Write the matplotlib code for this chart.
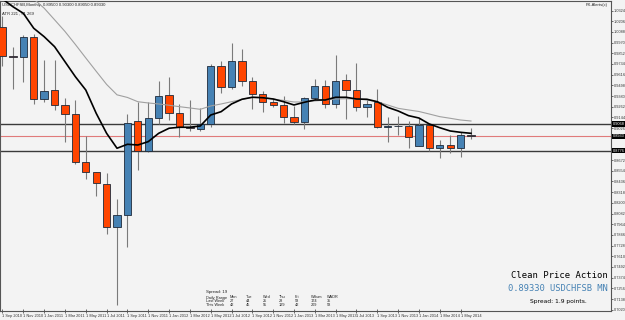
import pandas as pd
import matplotlib
matplotlib.use("Agg")
import matplotlib.pyplot as plt

# monthly USDCHF candles, Sep 2010 .. Jun 2014
months = pd.date_range("2010-09-01", periods=46, freq="MS")

opens = [1.0139, 0.9825, 0.9814, 1.0028, 0.9344, 0.9443, 0.9278, 0.9178, 0.8648, 0.8538,
         0.8412, 0.7937, 0.8063, 0.9104, 0.8776, 0.9134, 0.9388, 0.9193, 0.9041, 0.9013,
         0.9068, 0.9708, 0.9476, 0.9763, 0.9549, 0.9399, 0.9311, 0.9278, 0.9152, 0.9096,
         0.9361, 0.9491, 0.9292, 0.9554, 0.9446, 0.9262, 0.9317, 0.9041, 0.9052, 0.9052,
         0.8831, 0.9060, 0.8803, 0.8839, 0.8803, 0.8950]
highs = [1.0263, 0.9925, 1.0054, 1.0061, 0.9778, 0.9778, 0.9361, 0.9336, 0.8942, 0.8544,
         0.8527, 0.8243, 0.9178, 0.9311, 0.9317, 0.9546, 0.9590, 0.9295, 0.9336, 0.9244,
         0.9730, 0.9767, 0.9962, 0.9896, 0.9593, 0.9439, 0.9344, 0.9380, 0.9273, 0.9366,
         0.9565, 0.9557, 0.9833, 0.9623, 0.9748, 0.9336, 0.9454, 0.9148, 0.9154, 0.9104,
         0.9134, 0.9071, 0.8894, 0.8950, 0.8983, 0.9030]
lows = [0.9711, 0.9454, 0.9538, 0.9292, 0.9317, 0.9226, 0.8876, 0.8626, 0.8464, 0.8276,
        0.7853, 0.7073, 0.7710, 0.8563, 0.8765, 0.9071, 0.9115, 0.8931, 0.8997, 0.8997,
        0.9041, 0.9417, 0.9458, 0.9491, 0.9233, 0.9207, 0.9255, 0.9085, 0.9071, 0.9016,
        0.9336, 0.9244, 0.9244, 0.9126, 0.9218, 0.9145, 0.9024, 0.8876, 0.8950, 0.8803,
        0.8823, 0.8778, 0.8692, 0.8748, 0.8701, 0.8905]
closes = [0.9825, 0.9814, 1.0028, 0.9344, 0.9435, 0.9281, 0.9181, 0.8648, 0.8538, 0.8416,
          0.7937, 0.8063, 0.9079, 0.8776, 0.9134, 0.9377, 0.9196, 0.9041, 0.9024, 0.9068,
          0.9711, 0.9476, 0.9763, 0.9549, 0.9399, 0.9317, 0.9278, 0.9145, 0.9096, 0.9361,
          0.9491, 0.9292, 0.9546, 0.9446, 0.9262, 0.9292, 0.9041, 0.9052, 0.9047, 0.8931,
          0.9060, 0.8803, 0.8839, 0.8803, 0.8950, 0.8933]

# moving averages as drawn
ma_fast = [1.0451, 1.0366, 1.0293, 1.0128, 1.0035, 0.9925, 0.9759, 0.9593, 0.9446, 0.9189,
           0.8968, 0.8803, 0.8847, 0.8839, 0.8876, 0.8968, 0.9024, 0.9035, 0.9035, 0.9049,
           0.9170, 0.9207, 0.9292, 0.9344, 0.9366, 0.9361, 0.9347, 0.9317, 0.9281, 0.9311,
           0.9336, 0.9336, 0.9366, 0.9366, 0.9347, 0.9344, 0.9317, 0.9255, 0.9215, 0.9163,
           0.9137, 0.9071, 0.9030, 0.8994, 0.8979, 0.8968]
ma_slow = [1.0816, 1.0694, 1.0573, 1.0451, 1.0350, 1.0222, 1.0093, 0.9949, 0.9800, 0.9653,
           0.9508, 0.9393, 0.9364, 0.9317, 0.9303, 0.9292, 0.9278, 0.9262, 0.9248, 0.9233,
           0.9270, 0.9292, 0.9317, 0.9342, 0.9366, 0.9364, 0.9347, 0.9331, 0.9314, 0.9314,
           0.9325, 0.9336, 0.9347, 0.9350, 0.9347, 0.9336, 0.9317, 0.9281, 0.9244, 0.9226,
           0.9209, 0.9181, 0.9152, 0.9134, 0.9115, 0.9104]

levels = [0.9068, 0.8776]
price_ticks = [0.7020, 0.7138, 0.7256, 0.7374, 0.7492, 0.7610, 0.7728, 0.7846, 0.7964, 0.8082,
               0.8200, 0.8318, 0.8436, 0.8554, 0.8672, 0.8790, 0.8908, 0.9026, 0.9144, 0.9262,
               0.9380, 0.9498, 0.9616, 0.9734, 0.9852, 0.9970, 1.0088, 1.0206, 1.0324]

stat_cols = ["Daily Range", "Mon", "Tue", "Wed", "Thu", "Fri", "WSum", "WADR"]
last_week = ["Last Week", "27", "44", "25", "28", "58", "174", "35"]
this_week = ["This Week", "42", "45", "55", "129", "42", "209", "58"]

bg = "#f3f3f3"
bull = "#4682b4"
bear = "#ff4500"
small = "Liberation Sans"

fig = plt.figure(figsize=(6.25, 3.2), dpi=100, facecolor=bg)
ax = fig.add_axes([0.0, 9 / 320, 611 / 625, 310 / 320], facecolor=bg)

x = list(range(len(months)))
ax.vlines(x, lows, highs, color="#7a7a7a", lw=0.8, zorder=2)
for i in x:
    o, c = opens[i], closes[i]
    col = bull if c >= o else bear
    ax.bar(i, max(abs(c - o), 0.0004), bottom=min(o, c), width=0.7,
           color=col, edgecolor="#1e2a3a", lw=0.6, zorder=3)

ax.plot(x, ma_slow, color="#a0a0a0", lw=0.8, zorder=4)
ax.plot(x, ma_fast, color="black", lw=1.2, zorder=4)

for lv in levels:
    ax.axhline(lv, color="#3a3a3a", lw=1.0, zorder=1)
ax.axhline(closes[-1], color="#e07a7a", lw=0.8, zorder=1)

ax.set_xlim(-0.24, 58.45)
ax.set_ylim(0.7006, 1.0429)

# right price scale, hiding labels hidden under the boxed ones
boxed = levels + [closes[-1]]
shown = [t for t in price_ticks if min(abs(t - b) for b in boxed) > 0.003]
ax.yaxis.tick_right()
ax.set_yticks(shown)
ax.set_yticklabels([f"{v:.4f}" for v in shown], family=small)
ax.tick_params(axis="y", labelsize=2.8, length=1.5, width=0.5, pad=0.6, colors="#333333")

ax.set_xticks(x[::2])
ax.set_xticklabels([f"1 {d:%b %Y}" for d in months[::2]], family=small)
ax.tick_params(axis="x", labelsize=2.8, length=3, width=0.5, pad=0.5, colors="#333333",
               direction="inout")
for lab in ax.get_xticklabels():
    lab.set_ha("left")

for s in ax.spines.values():
    s.set_color("#555555")
    s.set_linewidth(0.8)

# boxed price labels on the right scale
ytr = ax.get_yaxis_transform()
for lv in boxed:
    ax.text(1.003, lv, f"{lv:.4f}", transform=ytr, fontsize=2.8, family=small,
            color="white", va="center", ha="left",
            bbox=dict(boxstyle="square,pad=0.2", fc="black", ec="none"))

# header texts
ax.text(0.004, 0.993, "USDCHFSB,Monthly  " + " ".join(
    f"{v:.5f}" for v in (opens[-1], highs[-1], lows[-1], closes[-1])),
    transform=ax.transAxes, fontsize=3.0, family=small, va="top", ha="left",
    color="#222222")
ax.text(0.004, 0.967, "ATR 221 , 61 269", transform=ax.transAxes, family=small,
        fontsize=3.0, va="top", ha="left", color="#222222")
ax.text(0.995, 0.993, "FX-Alerts(c)", transform=ax.transAxes, fontsize=3.0,
        family=small, va="top", ha="right", color="#222222")


# daily range stats block
def px(xp, yp):
    return xp / 611, (311 - yp) / 310


ax.text(*px(206, 292), "Spread: 19", transform=ax.transAxes, fontsize=3.2,
        family=small, va="center", ha="left", color="#222222")
col_x = [206, 230, 246, 263, 279, 295, 311, 327]
for row, yp in ((stat_cols, 297.5), (last_week, 301.5), (this_week, 305.5)):
    for xp, t in zip(col_x, row):
        ax.text(*px(xp, yp), t, transform=ax.transAxes, fontsize=2.8, family=small,
                va="center", ha="left", color="#222222")

# branding bottom right
ax.text(*px(608, 275), "Clean Price Action", transform=ax.transAxes,
        fontsize=6.4, family="DejaVu Sans Mono", va="center", ha="right", color="black")
ax.text(*px(608, 288.5), f"{closes[-1]:.5f} USDCHFSB MN", transform=ax.transAxes,
        fontsize=6.3, family="DejaVu Sans Mono", va="center", ha="right", color=bull)
ax.text(*px(587, 301.5), "Spread: 1.9 points.", transform=ax.transAxes,
        fontsize=4.3, va="center", ha="right", color="black")

fig.savefig("out.png", dpi=100, facecolor=bg)
